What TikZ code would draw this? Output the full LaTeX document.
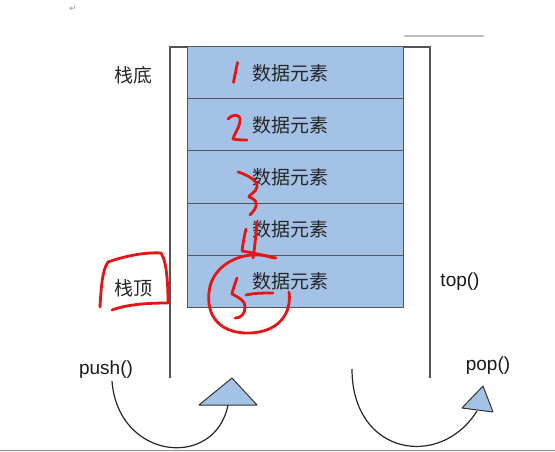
\documentclass[tikz,border=0pt]{standalone}
\usepackage{fontspec}
\setmainfont{Liberation Sans}
\newfontfamily\cjk{Noto Sans CJK SC}
\newfontfamily\dejavu{DejaVu Sans}
\definecolor{cellblue}{RGB}{164,194,230}
\definecolor{lineg}{RGB}{85,85,85}
\definecolor{redpen}{RGB}{230,20,20}
\begin{document}
\begin{tikzpicture}[x=1pt,y=-1pt,
  cell/.style={draw=lineg,fill=cellblue,line width=1pt,minimum width=216pt,minimum height=52pt,inner sep=0pt},
  celltext/.style={font=\cjk\fontsize{19}{19}\selectfont,text=black!85,inner sep=0pt},
  side/.style={font=\cjk\fontsize{19}{19}\selectfont,text=black!85,inner sep=0pt},
  fn/.style={font=\fontsize{19}{19}\selectfont,text=black!90,inner sep=0pt},
  wall/.style={draw=lineg,line width=1.1pt},
  arc/.style={draw=black!85,line width=1.2pt},
  tri/.style={draw=black!80,fill=cellblue,line width=1pt,line join=round},
  pen/.style={draw=redpen,line width=2.8pt,line cap=round,line join=round}]
\useasboundingbox (0,0) rectangle (555,452);
\fill[white] (0,0) rectangle (555,452);
% page remnants
\node[font=\dejavu\fontsize{9}{9}\selectfont,text=black!40] (ret) at (73,9) {↵};
\draw[black!25,line width=2.5pt] (404,36) -- (484,36);
\draw[black!45,line width=1pt] (0,450) -- (555,450);
% container
\coordinate (tl) at (170,47);
\coordinate (tr) at (430,47);
\coordinate (bl) at (170,378);
\coordinate (br) at (430,378);
\draw[wall] (bl) -- (tl) -- (tr) -- (br);
% cells
\foreach \i in {1,...,5}{
  \node[cell] (c\i) at (295,{47+26+52*(\i-1)}) {};
  \node[celltext] (t\i) at (290,{47+26+52*(\i-1)}) {数据元素};
}
% labels
\node[side] (bottom) at (133,75) {栈底};
\node[side] (topl) at (133,288) {栈顶};
\node[fn] (topf) at (460,282) {top()};
\node[fn] (push) at (106,370) {push()};
\node[fn] (pop) at (488,366) {pop()};
% triangles
\draw[tri] (199,405) -- (232,378) -- (257,405) -- cycle;
\coordinate (pusht) at (228,405);
\draw[tri] (462,408) -- (483,386) -- (493,412) -- cycle;
\coordinate (popt) at (477,411);
\coordinate (pops) at (352,369);
% arcs
\draw[arc] (push.south -| 112,0) ++(0,2) .. controls (118,460) and (215,470) .. (pusht);
\draw[arc] (pops) .. controls (352,455) and (440,470) .. (popt);
% red handwriting
\draw[pen] (237.5,62.5) .. controls (236,70) .. (233.5,82.5);
\draw[pen] (228,119) .. controls (232,114) and (241,113) .. (240,121) .. controls (239,129) and (234,134) .. (233,139) .. controls (238,140) and (243,140) .. (247,140);
\draw[pen] (238,172) .. controls (248,175) and (258,181) .. (257,187) .. controls (256,193) and (248,195) .. (249,197) .. controls (258,200) and (259,206) .. (250,215);
\draw[pen] (246,229) .. controls (244,237) and (243,244) .. (242,251) .. controls (254,253) and (266,256) .. (276,258);
\draw[pen] (257,222) .. controls (256,234) and (255,246) .. (253,258);
\draw[pen] (237,278) .. controls (235,284) and (233,289) .. (232,294) .. controls (238,297) and (246,301) .. (245,307) .. controls (245,313) and (242,318) .. (235,318);
\draw[pen] (246,295) .. controls (255,293) and (265,293) .. (273,293);
\draw[pen] (274,258) .. controls (248,248) and (212,262) .. (209,292) .. controls (206,318) and (222,334) .. (250,333) .. controls (278,332) and (292,314) .. (289,292);
\draw[pen] (100,307) .. controls (101,290) and (102,270) .. (108,262) .. controls (125,256) and (145,252) .. (161,253) .. controls (167,262) and (168,285) .. (168,303);
\draw[pen] (112,310) .. controls (128,304) and (150,303) .. (168,303);
\end{tikzpicture}
\end{document}
